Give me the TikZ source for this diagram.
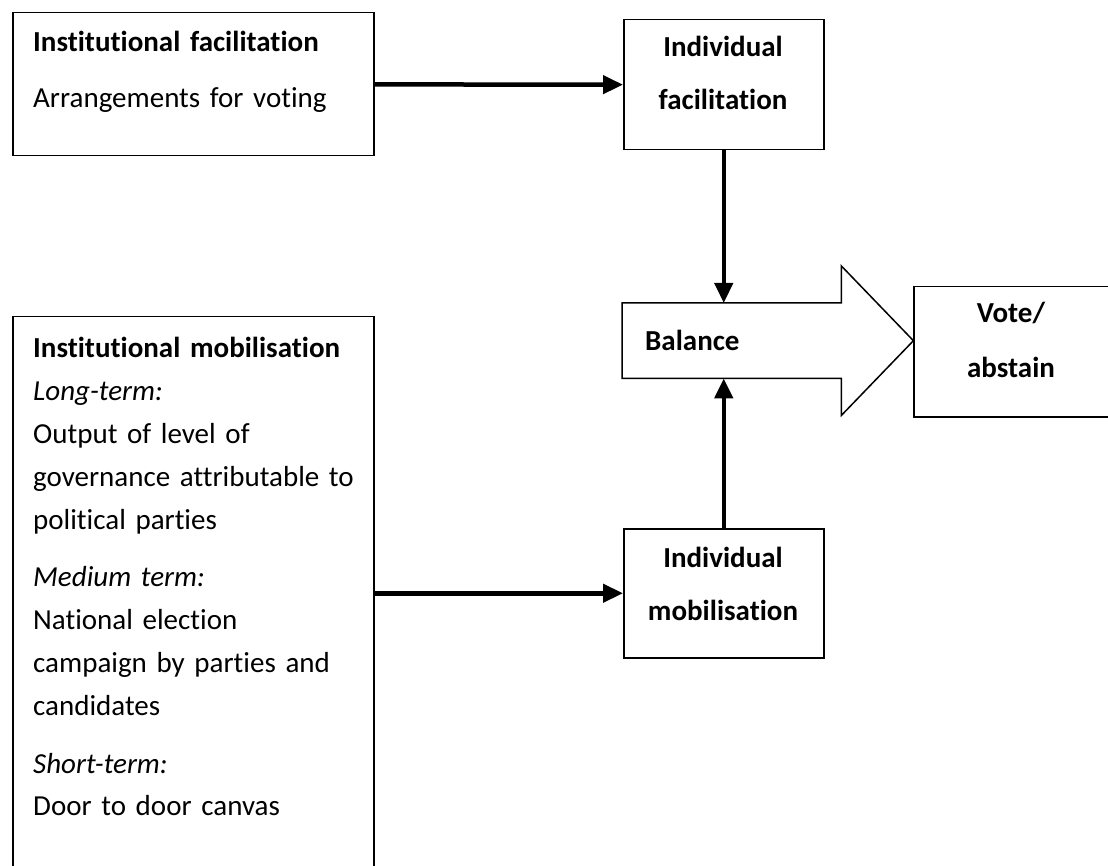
\documentclass[tikz,border=0pt]{standalone}
\usepackage{fontspec}
\setmainfont{Carlito}[Ligatures={NoCommon}]
\usepackage{tikz}
\usetikzlibrary{positioning}
\usetikzlibrary{arrows.meta}

\begin{document}
\begin{tikzpicture}[x=1pt,y=-1pt,
  box/.style={draw,line width=1.5pt,inner sep=0pt,anchor=north west},
  txt/.style={inner sep=0pt,align=left,anchor=base west},
  ctxt/.style={inner sep=0pt,align=center,anchor=base},
  conn/.style={line width=4.5pt,-{Triangle[length=20pt,width=18pt]}},
  every node/.style={font=\fontsize{29}{43}\selectfont}]
\useasboundingbox (0,0) rectangle (1108,866);

% institutional side
\node[box,minimum width=361,minimum height=143] (instfac) at (12,12) {};
\node[txt,text width=335] (instfac-t) at (33,52)
  {\textbf{Institutional facilitation}\\[13pt]Arrangements for voting};
\node[box,minimum width=361,minimum height=570] (instmob) at (12,316) {};
\node[txt,text width=335] (instmob-t) at (33,358)
  {\textbf{Institutional mobilisation}\\
   \textit{Long-term:}\\
   Output of level of\\
   governance attributable to\\
   political parties\\[14pt]
   \textit{Medium term:}\\
   National election\\
   campaign by parties and\\
   candidates\\[14pt]
   \textit{Short-term:}\\
   Door to door canvas};

% individual side
\node[box,minimum width=200,minimum height=130] (fac) at (623,19) {};
\node[ctxt,text width=200] (fac-t) at (723,57)
  {\textbf{Individual}\\[10pt]\textbf{facilitation}};
\node[box,minimum width=200,minimum height=129] (mob) at (623,528) {};
\node[ctxt,text width=200] (mob-t) at (723,567)
  {\textbf{Individual}\\[10pt]\textbf{mobilisation}};

% balance arrow and outcome
\node[anchor=north west,minimum width=219,minimum height=75,inner xsep=23pt,
  inner ysep=0pt,text width=173,align=left] (bal) at (622,303) {\textbf{Balance}};
\draw[line width=1.5pt,line join=miter]
  (bal.north west) -- (bal.north east) -- ([yshift=37pt]bal.north east)
  -- ([xshift=72pt]bal.east) -- ([yshift=-37pt]bal.south east)
  -- (bal.south east) -- (bal.south west) -- cycle;
\node[box,minimum width=200,minimum height=130] (vote) at (913,286) {};
\node[ctxt,text width=195] (vote-t) at (1011,323)
  {\textbf{Vote/}\\[12pt]\textbf{abstain}};

\path[conn]
  (instfac) edge (fac)
  (fac.south) edge (fac.south |- bal.north)
  (mob.north) edge (mob.north |- bal.south)
  (mob.west -| instmob.east) edge (mob.west);
\end{tikzpicture}
\end{document}
